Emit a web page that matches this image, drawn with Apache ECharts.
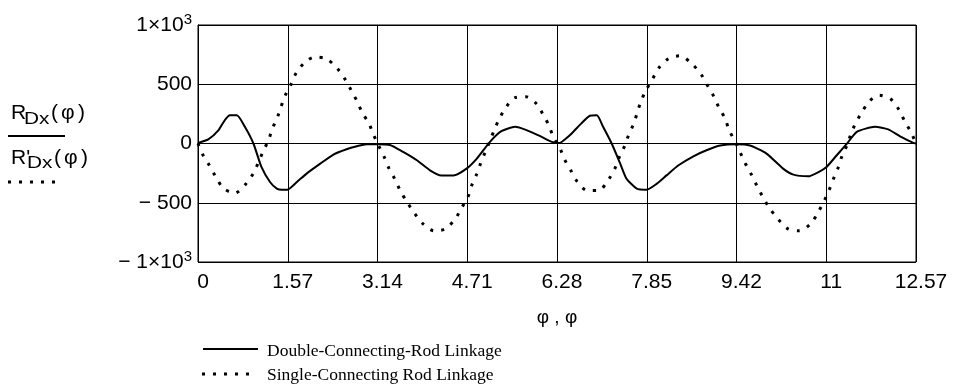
<!DOCTYPE html>
<html>
<head>
<meta charset="utf-8">
<script src="https://cdn.jsdelivr.net/npm/echarts@6/dist/echarts.min.js"></script>
<style>html,body{margin:0;padding:0;background:#fff}#c{width:953px;height:384px}</style>
</head>
<body>
<div id="c"></div>
<script>
// x tick labels (axis runs 0 .. 4π in steps of π/2)
const xTickLabels = ['0','1.57','3.14','4.71','6.28','7.85','9.42','11','12.57'];
const yTickValues = [-1000,-500,0,500,1000];
const yTickLabels = ['{n|\u2212 1\u00d710}{s|3}','\u2212 500','0','500','{n|1\u00d710}{s|3}'];

const seriesNames = ['Double-Connecting-Rod Linkage','Single-Connecting Rod Linkage'];

// Double-connecting-rod linkage R_Dx(φ)
const doubleX = [0,0.18,0.36,0.47,0.56,0.68,0.82,0.97,1.11,1.26,1.38,1.47,1.56,1.73,1.90,2.14,2.37,2.60,2.78,2.95,3.13,3.36,3.59,3.83,4.06,4.26,4.47,4.70,4.88,5.11,5.31,5.55,5.75,5.99,6.19,6.335,6.42,6.54,6.71,6.86,6.98,7.09,7.24,7.39,7.5,7.68,7.85,8.03,8.2,8.41,8.67,8.9,9.14,9.43,9.66,9.95,10.24,10.42,10.68,10.86,11.0,11.18,11.35,11.53,11.85,12.08,12.28,12.52,12.566];
const doubleY = [5,34,113,198,238,238,141,0,-198,-325,-381,-390,-390,-325,-254,-170,-93,-48,-23,-6,-6,-12,-71,-141,-226,-269,-269,-212,-127,14,104,141,113,62,14,5,34,85,170,234,238,141,0,-170,-297,-381,-390,-339,-269,-184,-108,-57,-17,-6,-17,-85,-212,-263,-277,-241,-198,-99,-6,98,141,119,62,5,0];

// Single-connecting-rod linkage R'_Dx(φ)
const singleX = [0,0.082,0.198,0.315,0.443,0.642,0.835,0.968,1.06,1.143,1.237,1.3,1.387,1.453,1.528,1.628,1.715,1.873,2.048,2.246,2.438,2.573,2.683,2.788,2.876,2.993,3.075,3.16,3.26,3.343,3.448,3.54,3.652,3.78,3.932,4.135,4.327,4.502,4.614,4.725,4.79,4.877,4.947,5.028,5.11,5.186,5.273,5.385,5.548,5.735,5.933,6.043,6.148,6.218,6.335,6.417,6.528,6.638,6.813,7.012,7.187,7.298,7.373,7.468,7.538,7.625,7.688,7.753,7.84,7.951,8.062,8.237,8.435,8.633,8.808,8.92,9.03,9.118,9.228,9.293,9.398,9.49,9.578,9.683,9.778,9.883,9.998,10.15,10.325,10.523,10.723,10.85,10.955,11.043,11.118,11.2,11.265,11.353,11.423,11.503,11.615,11.748,11.923,12.123,12.273,12.367,12.478,12.566];
const singleY = [0,-93,-184,-284,-377,-419,-343,-252,-156,-63,31,124,217,310,407,500,593,686,729,715,633,543,447,353,260,167,70,-17,-114,-210,-303,-398,-489,-582,-675,-737,-720,-636,-543,-450,-354,-260,-167,-71,22,115,208,302,387,395,331,240,147,53,-40,-136,-229,-322,-396,-396,-303,-209,-116,-20,73,166,260,356,449,539,636,717,740,678,581,488,395,302,208,115,19,-76,-167,-260,-353,-449,-542,-636,-720,-737,-678,-582,-489,-396,-303,-209,-114,-20,73,166,260,356,407,375,282,189,96,0];

const zip = (xs, ys) => xs.map((x, i) => [x, ys[i]]);

const chart = echarts.init(document.getElementById('c'), null, {renderer: 'canvas'});
const SANS = 'Liberation Sans, Arial, sans-serif';
const SERIF = 'Liberation Serif, Times New Roman, serif';
const HALF_PI = Math.PI / 2;

chart.setOption({
  animation: false,
  backgroundColor: '#fff',
  grid: {left: 198, right: 37, top: 25, bottom: 122, show: true, borderColor: '#000', borderWidth: 1, containLabel: false},
  xAxis: {
    type: 'value', min: 0, max: 4 * Math.PI, interval: HALF_PI,
    name: '\u03c6 , \u03c6', nameLocation: 'middle', nameGap: 46,
    nameTextStyle: {fontFamily: SANS, fontSize: 19, color: '#000'},
    axisLine: {show: true, lineStyle: {color: '#000', width: 1}},
    axisTick: {show: false},
    splitLine: {show: true, lineStyle: {color: '#000', width: 1}},
    axisLabel: {
      margin: 10, color: '#000', fontFamily: SANS, fontSize: 21, padding: [0, 0, 0, 10],
      formatter: v => { const i = Math.round(v / HALF_PI); return xTickLabels[i] !== undefined ? xTickLabels[i] : ''; }
    }
  },
  yAxis: {
    type: 'value', min: -1000, max: 1000, interval: 500,
    axisLine: {show: true, lineStyle: {color: '#000', width: 1}},
    axisTick: {show: false},
    splitLine: {show: true, lineStyle: {color: '#000', width: 1}},
    axisLabel: {
      margin: 6, color: '#000', fontFamily: SANS, fontSize: 21,
      formatter: v => { const i = yTickValues.indexOf(Math.round(v)); return i >= 0 ? yTickLabels[i] : ''; },
      rich: {
        n: {fontFamily: SANS, fontSize: 21, color: '#000', lineHeight: 26},
        s: {fontFamily: SANS, fontSize: 15, color: '#000', lineHeight: 15, verticalAlign: 'top'}
      }
    }
  },
  series: [
    {
      name: seriesNames[0], type: 'line', symbol: 'none', data: zip(doubleX, doubleY), smooth: 0.2,
      lineStyle: {color: '#000', width: 2}, itemStyle: {color: '#000'}
    },
    {
      name: seriesNames[1], type: 'line', symbol: 'none', data: zip(singleX, singleY), smooth: 0.3,
      lineStyle: {color: '#000', width: 3, type: [3, 8], cap: 'butt'}, itemStyle: {color: '#000'}
    }
  ],
  graphic: [
    // left-side curve labels
    {type: 'text', x: 11, y: 103, style: {text: 'R', font: '21px ' + SANS, fill: '#000'}},
    {type: 'text', x: 24, y: 112, scaleX: 1.3, style: {text: 'Dx', font: '16px ' + SANS, fill: '#000'}},
    {type: 'text', x: 51, y: 103, style: {text: '(', font: '21px ' + SANS, fill: '#000'}},
    {type: 'text', x: 61, y: 103, style: {text: '\u03c6', font: '21px ' + SANS, fill: '#000'}},
    {type: 'text', x: 78, y: 103, style: {text: ')', font: '21px ' + SANS, fill: '#000'}},
    {type: 'line', shape: {x1: 8, y1: 136, x2: 65, y2: 136}, style: {stroke: '#000', lineWidth: 2}},
    {type: 'text', x: 11, y: 148, style: {text: "R'", font: '21px ' + SANS, fill: '#000'}},
    {type: 'text', x: 27, y: 156, scaleX: 1.3, style: {text: 'Dx', font: '16px ' + SANS, fill: '#000'}},
    {type: 'text', x: 54, y: 148, style: {text: '(', font: '21px ' + SANS, fill: '#000'}},
    {type: 'text', x: 64, y: 148, style: {text: '\u03c6', font: '21px ' + SANS, fill: '#000'}},
    {type: 'text', x: 81, y: 148, style: {text: ')', font: '21px ' + SANS, fill: '#000'}},
    {type: 'line', shape: {x1: 8, y1: 182, x2: 57, y2: 182}, style: {stroke: '#000', lineWidth: 3, lineDash: [3, 8]}},
    // bottom legend
    {type: 'line', shape: {x1: 203, y1: 349, x2: 258, y2: 349}, style: {stroke: '#000', lineWidth: 2}},
    {type: 'text', x: 267, y: 351, style: {text: seriesNames[0], font: '17.5px ' + SERIF, fill: '#000', verticalAlign: 'middle'}},
    {type: 'line', shape: {x1: 202, y1: 374, x2: 252, y2: 374}, style: {stroke: '#000', lineWidth: 3, lineDash: [3, 8]}},
    {type: 'text', x: 267, y: 375, style: {text: seriesNames[1], font: '17.5px ' + SERIF, fill: '#000', verticalAlign: 'middle'}}
  ]
});
</script>
</body>
</html>
